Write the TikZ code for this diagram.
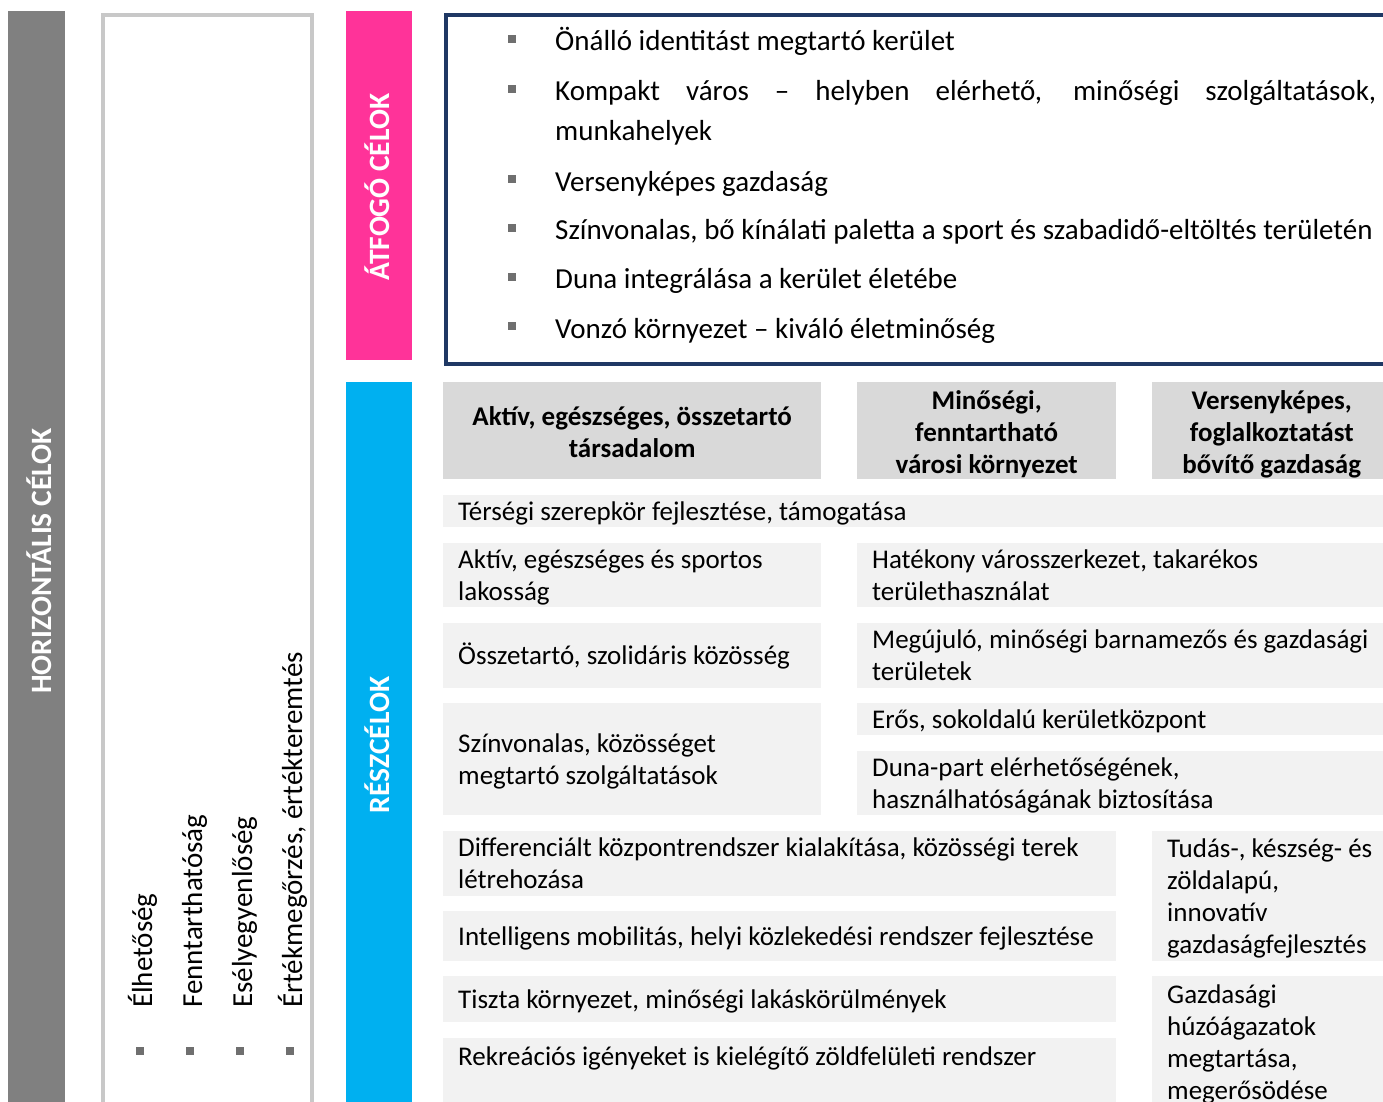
\documentclass[tikz,border=0pt]{standalone}
\usepackage{fontspec}
\setmainfont{Carlito}
\usepackage{xcolor}
\usepackage{tikz}
\usetikzlibrary{positioning}
\definecolor{horizgray}{HTML}{808080}
\definecolor{framegray}{HTML}{C8C8C8}
\definecolor{atfogopink}{HTML}{FF3399}
\definecolor{reszblue}{HTML}{00B0F0}
\definecolor{navy}{HTML}{1F3864}
\definecolor{headgray}{HTML}{D9D9D9}
\definecolor{cellgray}{HTML}{F2F2F2}
\definecolor{bulletgray}{HTML}{6F6F6F}
\newcommand{\sqbullet}{\llap{\textcolor{bulletgray}{\rule[8pt]{8pt}{8pt}}\hspace{39pt}}}
\tikzset{
  band/.style={rectangle,anchor=north west,inner sep=0pt},
  bandtext/.style={rotate=90,anchor=base,inner sep=0pt,text=white,font=\fontsize{29.5}{34}\selectfont\bfseries},
  cellsize/.style n args={3}{minimum width=#1pt,minimum height=#2pt,text width=#3pt},
  linebox/.style 2 args={execute at begin node={\rule{0pt}{#1}},execute at end node={\rule[-#2]{0pt}{#2}}},
  head/.style={rectangle,fill=headgray,anchor=north west,inner xsep=15pt,inner ysep=0pt,align=flush center,
    linebox={27pt}{6pt},font=\fontsize{27}{32}\selectfont\bfseries},
  cell/.style={rectangle,fill=cellgray,anchor=north west,inner xsep=15pt,inner ysep=0pt,align=flush left,
    linebox={25pt}{7pt},font=\fontsize{27}{32}\selectfont},
  goal/.style={anchor=base west,inner sep=0pt,font=\fontsize{29}{32}\selectfont},
  horiz/.style={goal,rotate=90}
}

\begin{document}
\begin{tikzpicture}[x=1pt,y=-1pt]
  \useasboundingbox (0,0) rectangle (1383,1102);
  \clip (0,0) rectangle (1383,1102);
  % left columns
  \node[band,fill=horizgray,minimum width=57pt,minimum height=1100pt] (horizbar) at (8,11) {};
  \node[bandtext] (horizlabel) at (51,561) {HORIZONTÁLIS CÉLOK};
  \node[draw=framegray,line width=4pt,anchor=north west,minimum width=209pt,minimum height=1100pt] (horizframe) at (101,13) {};
  \node[horiz] (elhetoseg) at (152,1008) {\sqbullet Élhetőség};
  \node[horiz] (fenntarthatosag) at (202,1008) {\sqbullet Fenntarthatóság};
  \node[horiz] (eselyegyenloseg) at (252,1008) {\sqbullet Esélyegyenlőség};
  \node[horiz] (ertekmegorzes) at (302,1008) {\sqbullet Értékmegőrzés, értékteremtés};
  \node[band,fill=atfogopink,minimum width=66pt,minimum height=349pt] (atfogobar) at (346,11) {};
  \node[bandtext] (atfogolabel) at (389,187) {ÁTFOGÓ CÉLOK};
  \node[band,fill=reszblue,minimum width=66pt,minimum height=730pt] (reszbar) at (346,382) {};
  \node[bandtext] (reszlabel) at (389,745) {RÉSZCÉLOK};
  % atfogo celok
  \node[draw=navy,line width=4pt,anchor=north west,minimum width=956pt,minimum height=349pt] (atfogoframe) at (444,13) {};
  \node[goal] (onallo) at (555,51) {\sqbullet Önálló identitást megtartó kerület};
  \node[goal] (kompakt) at (555,101) {\sqbullet\makebox[821pt][s]{Kompakt város – helyben elérhető, minőségi szolgáltatások,}};
  \node[goal] (munkahely) at (555,141) {munkahelyek};
  \node[goal] (versenykepes) at (555,191) {\sqbullet Versenyképes gazdaság};
  \node[goal] (kinalat) at (555,239.5) {\sqbullet Színvonalas, bő kínálati paletta a sport és szabadidő-eltöltés területén};
  \node[goal] (duna) at (555,288.5) {\sqbullet Duna integrálása a kerület életébe};
  \node[goal] (vonzo) at (555,338) {\sqbullet Vonzó környezet – kiváló életminőség};
  % reszcelok
  \node[head,cellsize={378}{97}{348}] (tarsadalom) at (443,382) {Aktív, egészséges, összetartó\\társadalom};
  \node[head,cellsize={259}{97}{229}] (kornyezet) at (857,382) {Minőségi,\\fenntartható\\városi környezet};
  \node[head,cellsize={239}{97}{209}] (gazdasag) at (1152,382) {Versenyképes,\\foglalkoztatást\\bővítő gazdaság};
  \node[cell,cellsize={957}{32}{927}] (tersegi) at (443,495) {Térségi szerepkör fejlesztése, támogatása};
  \node[cell,cellsize={378}{64}{348}] (aktiv) at (443,543) {Aktív, egészséges és sportos\\lakosság};
  \node[cell,cellsize={543}{64}{513}] (hatekony) at (857,543) {Hatékony városszerkezet, takarékos\\területhasználat};
  \node[cell,cellsize={378}{65}{348}] (osszetarto) at (443,623) {Összetartó, szolidáris közösség};
  \node[cell,cellsize={543}{65}{513}] (megujulo) at (857,623) {Megújuló, minőségi barnamezős és gazdasági\\területek};
  \node[cell,cellsize={378}{112}{348}] (szinvonalas) at (443,703) {Színvonalas, közösséget\\megtartó szolgáltatások};
  \node[cell,cellsize={543}{32}{513}] (eros) at (857,703) {Erős, sokoldalú kerületközpont};
  \node[cell,cellsize={543}{64}{513}] (dunapart) at (857,751) {Duna-part elérhetőségének,\\használhatóságának biztosítása};
  \node[cell,cellsize={673}{65}{643}] (differencialt) at (443,831) {Differenciált központrendszer kialakítása, közösségi terek\\létrehozása};
  \node[cell,cellsize={248}{130}{218}] (tudas) at (1152,831) {Tudás-, készség- és\\zöldalapú,\\innovatív\\gazdaságfejlesztés};
  \node[cell,cellsize={673}{50}{643}] (intelligens) at (443,911) {Intelligens mobilitás, helyi közlekedési rendszer fejlesztése};
  \node[cell,cellsize={673}{46}{643}] (tiszta) at (443,976) {Tiszta környezet, minőségi lakáskörülmények};
  \node[cell,cellsize={248}{132}{218}] (gazdasagi) at (1152,976) {Gazdasági\\húzóágazatok\\megtartása,\\megerősödése};
  \node[cell,cellsize={673}{80}{643}] (rekreacios) at (443,1038) {};
  \node[goal,font=\fontsize{27}{32}\selectfont] (rekrtext) at ([xshift=15pt,yshift=-27pt]rekreacios.north west) {Rekreációs igényeket is kielégítő zöldfelületi rendszer};
\end{tikzpicture}
\end{document}
